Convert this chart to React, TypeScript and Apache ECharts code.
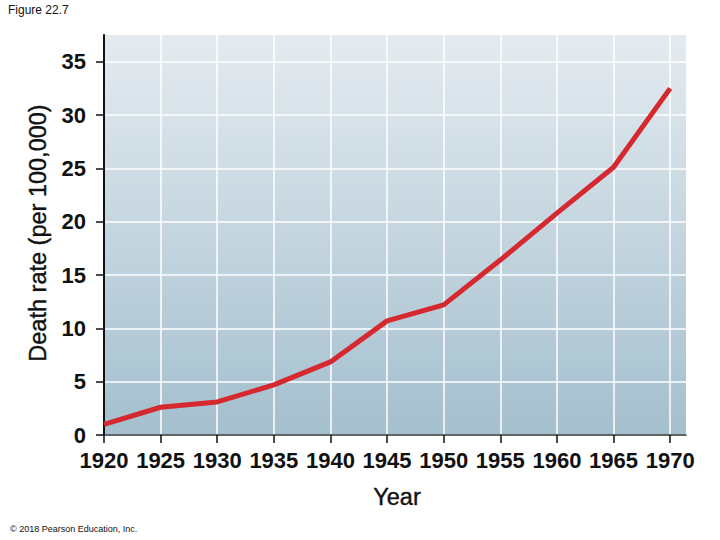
import React, { useEffect, useRef } from "react";
import * as echarts from "echarts";

const years = [1920, 1925, 1930, 1935, 1940, 1945, 1950, 1955, 1960, 1965, 1970];
const deathRate = [1.0, 2.6, 3.1, 4.7, 6.85, 10.7, 12.2, 16.4, 20.8, 25.1, 32.5];
const yTicks = [0, 5, 10, 15, 20, 25, 30, 35];
const xTicks = [1920, 1925, 1930, 1935, 1940, 1945, 1950, 1955, 1960, 1965, 1970];

export default function App() {
  const ref = useRef<HTMLDivElement>(null);
  useEffect(() => {
    if (!ref.current) return;
    const chart = echarts.init(ref.current, undefined, { renderer: "svg" });
    const font = "'Liberation Sans', Arial, Helvetica, sans-serif";
    chart.setOption({
      animation: false,
      backgroundColor: "#ffffff",
      grid: {
        left: 104,
        right: 34,
        top: 35,
        bottom: 105,
        show: true,
        borderWidth: 0,
        backgroundColor: new echarts.graphic.LinearGradient(0, 0, 0, 1, [
          { offset: 0, color: "#e4ebf0" },
          { offset: 1, color: "#a4bfce" },
        ]),
      },
      xAxis: {
        type: "value",
        min: 1920,
        max: 1971.4,
        interval: 5,
        axisLine: { show: true, lineStyle: { color: "#333", width: 1.5 } },
        axisTick: { show: true, length: 8, customValues: xTicks, lineStyle: { color: "#111", width: 1.5 } },
        axisLabel: {
          customValues: xTicks,
          margin: 14,
          color: "#111",
          fontSize: 22,
          fontWeight: "bold",
          fontFamily: font,
          formatter: (v: number) => String(v),
        },
        splitLine: { show: true, lineStyle: { color: "#ffffff", width: 1.5 } },
      },
      yAxis: {
        type: "value",
        min: 0,
        max: 37.5,
        interval: 5,
        axisLine: { show: true, lineStyle: { color: "#111", width: 2 } },
        axisTick: { show: true, length: 8, customValues: yTicks, lineStyle: { color: "#111", width: 1.5 } },
        axisLabel: {
          customValues: yTicks,
          margin: 18,
          color: "#111",
          fontSize: 22,
          fontWeight: "bold",
          fontFamily: font,
        },
        splitLine: { show: true, lineStyle: { color: "#ffffff", width: 1.5 } },
      },
      series: [
        {
          type: "line",
          data: years.map((y, i) => [y, deathRate[i]]),
          symbol: "none",
          lineStyle: { color: "#d6282f", width: 5 },
          z: 5,
        },
      ],
      graphic: [
        {
          type: "text",
          left: 8,
          top: 4,
          style: { text: "Figure 22.7", fontSize: 12, fontFamily: font, fill: "#111" },
        },
        {
          type: "text",
          x: 38,
          y: 233,
          rotation: Math.PI / 2,
          style: {
            text: "Death rate (per 100,000)",
            fontSize: 23.5,
            fontFamily: font,
            fill: "#111",
            stroke: "#111",
            lineWidth: 0.4,
            align: "center",
            verticalAlign: "middle",
          },
        },
        {
          type: "text",
          x: 397,
          y: 497,
          style: {
            text: "Year",
            fontSize: 23.5,
            fontFamily: font,
            fill: "#111",
            stroke: "#111",
            lineWidth: 0.4,
            align: "center",
            verticalAlign: "middle",
          },
        },
        {
          type: "text",
          left: 10,
          top: 524,
          style: { text: "© 2018 Pearson Education, Inc.", fontSize: 9, fontFamily: font, fill: "#111" },
        },
      ],
    });
    return () => chart.dispose();
  }, []);
  return <div ref={ref} style={{ width: 720, height: 540, position: "absolute", left: 0, top: 0 }} />;
}
